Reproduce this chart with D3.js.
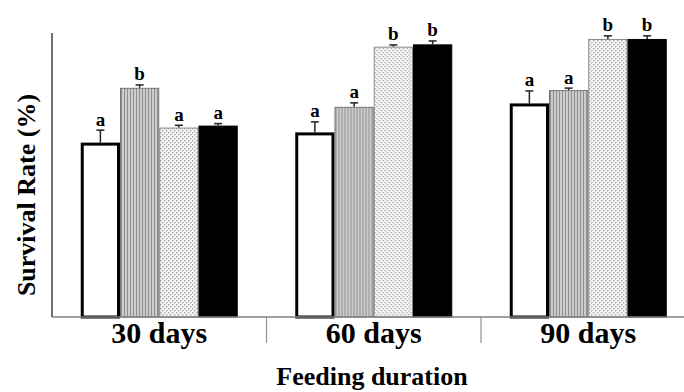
<!DOCTYPE html>
<html>
<head>
<meta charset="utf-8">
<script src="https://cdn.jsdelivr.net/npm/d3@7/dist/d3.min.js"></script>
<style>
  html, body { margin: 0; padding: 0; background: #fff; }
  svg { display: block; }
  text { font-family: "Liberation Serif", "Times New Roman", serif; font-weight: bold; fill: #000; }
</style>
</head>
<body>
<svg id="chart" width="684" height="392"></svg>
<script>
// ---- data ----
const groups = ["30 days", "60 days", "90 days"];
const series = ["Control", "Diet A", "Diet B", "Diet C"];
const values = [
  [61.4, 80.7, 66.7, 67.4],
  [65.0, 74.0, 95.2, 96.0],
  [75.2, 79.9, 97.9, 97.9]
];
const errors = [
  [4.4, 1.0, 0.8, 0.7],
  [3.7, 1.4, 0.6, 1.2],
  [4.4, 0.7, 1.1, 1.1]
];
const letters = [
  ["a", "b", "a", "a"],
  ["a", "a", "b", "b"],
  ["a", "a", "b", "b"]
];
const yLabel = "Survival Rate (%)";
const xLabel = "Feeding duration";

// ---- layout ----
const svg = d3.select("#chart");
const plotLeft = 52, plotBottom = 317, plotTop = 33, bandRight = 695.5;

const y = d3.scaleLinear().domain([0, 100]).range([plotBottom, plotTop]);
const x0 = d3.scaleBand().domain(groups).range([plotLeft, bandRight]).padding(0);
const groupW = 157;
const x1 = d3.scaleBand().domain(series)
  .range([(x0.bandwidth() - groupW) / 2, (x0.bandwidth() + groupW) / 2]).padding(0);

// patterns
const defs = svg.append("defs");
const stripe = defs.append("pattern").attr("id", "stripe")
  .attr("patternUnits", "userSpaceOnUse").attr("width", 3).attr("height", 6);
stripe.append("rect").attr("width", 3).attr("height", 6).attr("fill", "#cdcdcd");
stripe.append("rect").attr("x", 0).attr("width", 1).attr("height", 6).attr("fill", "#8e8e8e");

const dots = defs.append("pattern").attr("id", "dots")
  .attr("patternUnits", "userSpaceOnUse").attr("width", 4).attr("height", 4);
dots.append("rect").attr("width", 4).attr("height", 4).attr("fill", "#f6f6f6");
dots.append("rect").attr("x", 0).attr("y", 0).attr("width", 1.4).attr("height", 1.4).attr("fill", "#a8a8a8");
dots.append("rect").attr("x", 2).attr("y", 2).attr("width", 1.4).attr("height", 1.4).attr("fill", "#a8a8a8");

const styles = [
  { fill: "#ffffff", stroke: "#000", sw: 3, inset: 1.5 },
  { fill: "url(#stripe)", stroke: "#777", sw: 1, inset: 0.5 },
  { fill: "url(#dots)", stroke: "#888", sw: 1, inset: 0.5 },
  { fill: "#000000", stroke: "#000", sw: 1, inset: 0.5 }
];

// bars
const gSel = svg.append("g").selectAll("g").data(groups).join("g")
  .attr("transform", d => `translate(${x0(d)},0)`);

gSel.each(function (g, gi) {
  const sel = d3.select(this);
  series.forEach((s, si) => {
    const st = styles[si];
    const v = values[gi][si];
    const bx = x1(s), bw = x1.bandwidth();
    sel.append("rect")
      .attr("x", bx + st.inset).attr("y", y(v) + st.inset)
      .attr("width", bw - 2 * st.inset).attr("height", y(0) - y(v) - st.inset)
      .attr("fill", st.fill).attr("stroke", st.stroke).attr("stroke-width", st.sw);
    const cx = bx + bw / 2;
    const et = y(v + errors[gi][si]);
    sel.append("line").attr("x1", cx).attr("x2", cx).attr("y1", y(v)).attr("y2", et)
      .attr("stroke", "#222").attr("stroke-width", 1.5);
    sel.append("line").attr("x1", cx - 4).attr("x2", cx + 4).attr("y1", et).attr("y2", et)
      .attr("stroke", "#222").attr("stroke-width", 1.5);
    sel.append("text").attr("x", cx).attr("y", et - 4.5)
      .attr("text-anchor", "middle").style("font-size", "19px")
      .text(letters[gi][si]);
  });
});

// y axis line
svg.append("line").attr("x1", plotLeft).attr("x2", plotLeft).attr("y1", plotTop).attr("y2", plotBottom)
  .attr("stroke", "#707070").attr("stroke-width", 2);

// x axis
const xAxis = svg.append("g").attr("transform", `translate(0,${plotBottom})`)
  .call(d3.axisBottom(x0).tickSize(0).tickPadding(3));
xAxis.select(".domain").remove();
xAxis.selectAll("text").style("font-size", "30px")
  .attr("font-family", "Liberation Serif").attr("font-weight", "bold")
  .attr("fill", "#000").attr("dy", "0.75em");
svg.append("line").attr("x1", plotLeft).attr("x2", 684).attr("y1", plotBottom).attr("y2", plotBottom)
  .attr("stroke", "#808080").attr("stroke-width", 1.5);
svg.append("g").selectAll("line").data(groups.slice(1)).join("line")
  .attr("x1", d => x0(d)).attr("x2", d => x0(d))
  .attr("y1", plotBottom).attr("y2", plotBottom + 26)
  .attr("stroke", "#909090").attr("stroke-width", 1.2);

// axis titles
svg.append("text").attr("x", 372).attr("y", 385)
  .attr("text-anchor", "middle").style("font-size", "26px").text(xLabel);
svg.append("text")
  .attr("transform", `translate(26,195) rotate(-90)`)
  .attr("text-anchor", "middle").attr("dominant-baseline", "central")
  .style("font-size", "26px").text(yLabel);
</script>
</body>
</html>
